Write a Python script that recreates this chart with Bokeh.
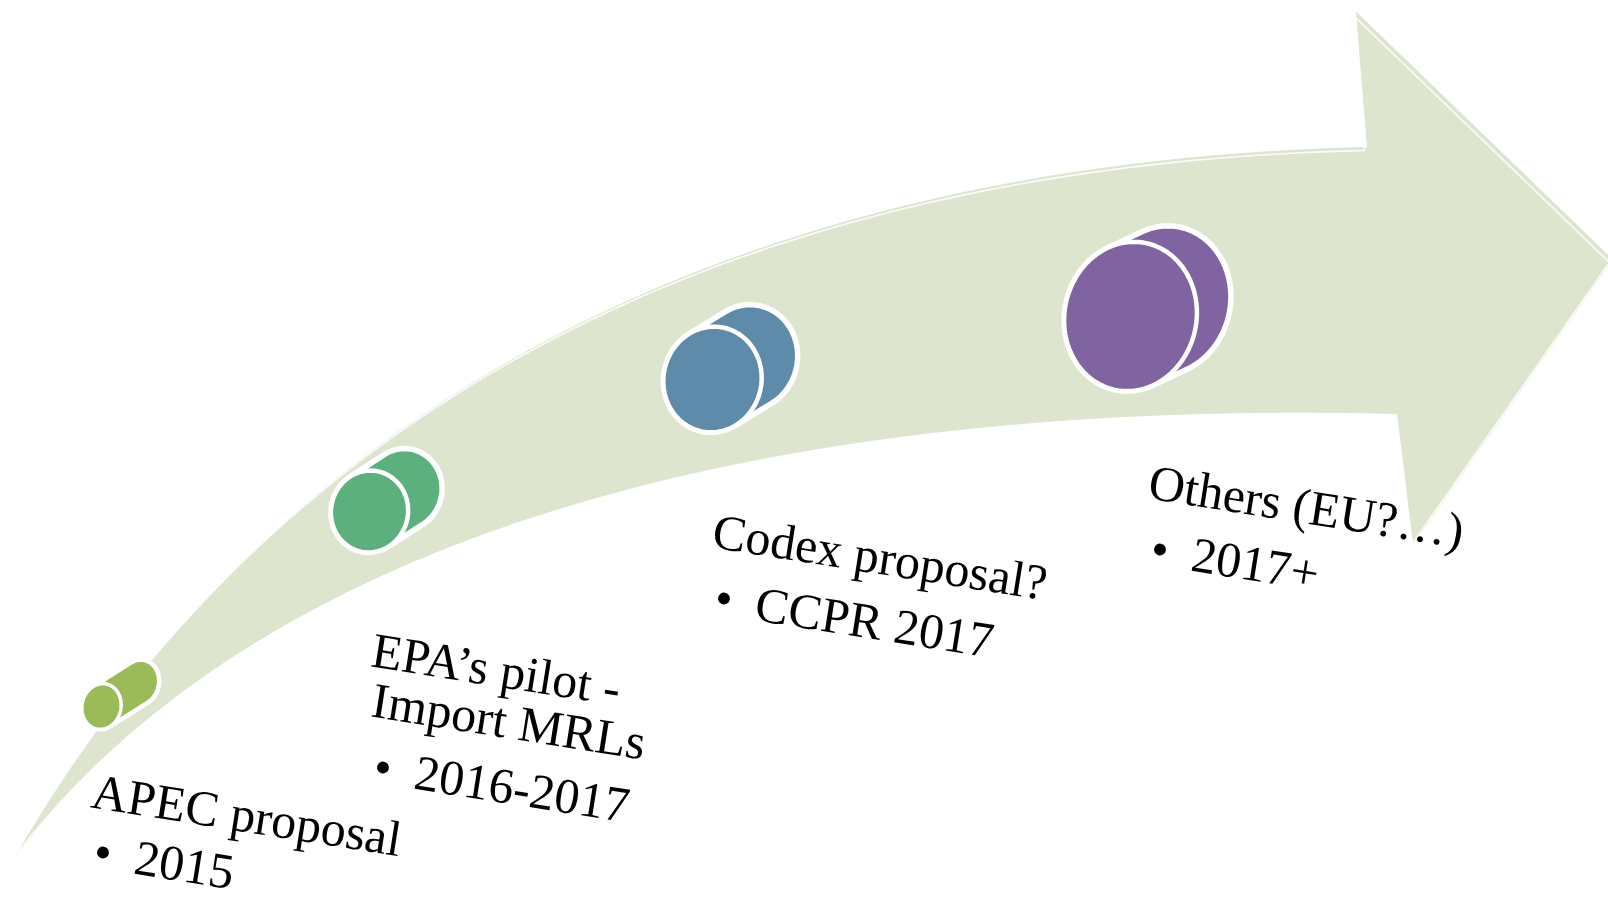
import numpy as np
from bokeh.plotting import figure
from bokeh.models import Range1d
from bokeh.core.properties import value
from bokeh.embed import file_html
from bokeh.resources import INLINE

# ---------------- data ----------------
heading_lines = [["APEC proposal"],
                 ["EPA\u2019s pilot -", "Import MRLs"],
                 ["Codex proposal?"],
                 ["Others (EU?\u2026)"]]
timing = ["2015", "2016-2017", "CCPR 2017", "2017+"]
colors = ["#9BBB59", "#5BB07E", "#5F8BAA", "#8064A2"]

# ---------------- layout (screen px) ----------------
cyl_cx = [101, 369, 712, 1130]
cyl_cy = [706, 511, 379, 316]
cyl_rx = [19.5, 38.5, 49, 66]
cyl_ry = [23, 41, 53, 75]
depth_dx = [38, 34, 36, 34]
depth_dy = [-24, -22, -22, -16]
tilt_deg = 12

label_x = [92, 372, 713, 1149]
label_y = [790, 649, 530, 481]
bullet_gaps = [60, 66, 66, 66]
text_rot = 9
font_px = 50
line_gap = 50
bullet_indent = 2
text_indent = 43

ARROW = "#DEE5CF"
FONT = "Liberation Serif"

W, H = 1608, 905
p = figure(width=W, height=H, x_range=Range1d(0, W), y_range=Range1d(H, 0),
           output_backend="svg", toolbar_location=None, min_border=0)
p.axis.visible = False
p.grid.visible = False
p.outline_line_color = None
p.background_fill_color = "white"
p.border_fill_color = "white"


def bezier(p0, p1, p2, p3, n=80):
    t = np.linspace(0, 1, n)[:, None]
    pts = ((1 - t) ** 3) * np.array(p0) + 3 * ((1 - t) ** 2) * t * np.array(p1) \
        + 3 * (1 - t) * t ** 2 * np.array(p2) + t ** 3 * np.array(p3)
    return pts[:, 0], pts[:, 1]


# ---- curved arrow ----
ux, uy = bezier((15, 856), (300, 360), (800, 160), (1367, 147))
lx, ly = bezier((15, 856), (300, 480), (900, 400), (1397, 413))
head_x = [1356, 1612, 1413]
head_y = [12, 259, 543]
ax = list(ux) + head_x + list(lx[::-1])
ay = list(uy) + head_y + list(ly[::-1])
p.patch(ax, ay, fill_color=ARROW, line_color=ARROW, line_width=1)
# bevel highlight
p.line([x - 3 for x in ax], [y + 3 for y in ay], line_color="white", line_width=1.6, line_alpha=0.9)


def ellipse_pts(cx, cy, rx, ry, tilt, n=120):
    t = np.linspace(0, 2 * np.pi, n, endpoint=False)
    x = rx * np.cos(t)
    y = ry * np.sin(t)
    ph = np.deg2rad(tilt)
    xr = x * np.cos(ph) - y * np.sin(ph)
    yr = x * np.sin(ph) + y * np.cos(ph)
    return cx + xr, cy + yr


def hull(xs, ys):
    pts = sorted(set(zip(np.round(xs, 3), np.round(ys, 3))))

    def cross(o, a, b):
        return (a[0] - o[0]) * (b[1] - o[1]) - (a[1] - o[1]) * (b[0] - o[0])
    lower, upper = [], []
    for pt in pts:
        while len(lower) >= 2 and cross(lower[-2], lower[-1], pt) <= 0:
            lower.pop()
        lower.append(pt)
    for pt in reversed(pts):
        while len(upper) >= 2 and cross(upper[-2], upper[-1], pt) <= 0:
            upper.pop()
        upper.append(pt)
    h = lower[:-1] + upper[:-1]
    return [q[0] for q in h], [q[1] for q in h]


for i, col in enumerate(colors):
    fx, fy = ellipse_pts(cyl_cx[i], cyl_cy[i], cyl_rx[i], cyl_ry[i], tilt_deg)
    bx, by = fx + depth_dx[i], fy + depth_dy[i]
    hx, hy = hull(np.concatenate([fx, bx]), np.concatenate([fy, by]))
    lw = 3.5 if i == 0 else 4.5
    p.patch(hx, hy, fill_color=col, line_color="white", line_width=lw + 1, line_join="round")
    p.patch(list(fx), list(fy), fill_color=col, line_color="white", line_width=lw)

# ---- labels ----
th = np.deg2rad(text_rot)
ud = (np.cos(th), np.sin(th))
tx, ty, tt = [], [], []
for i in range(len(heading_lines)):
    x0, y0 = label_x[i], label_y[i]
    for j, line in enumerate(heading_lines[i]):
        tx.append(x0); ty.append(y0 + j * line_gap); tt.append(line)
    yb = y0 + (len(heading_lines[i]) - 1) * line_gap + bullet_gaps[i]
    tx.append(x0 + bullet_indent * ud[0]); ty.append(yb + bullet_indent * ud[1]); tt.append("\u2022")
    tx.append(x0 + text_indent * ud[0]); ty.append(yb + text_indent * ud[1]); tt.append(timing[i])

p.text(tx, ty, text=tt, angle=-th, text_font=value(FONT), text_font_size=f"{font_px}px",
       text_color="black", text_align="left", text_baseline="alphabetic")

open("out.html", "w").write(file_html(p, INLINE))
